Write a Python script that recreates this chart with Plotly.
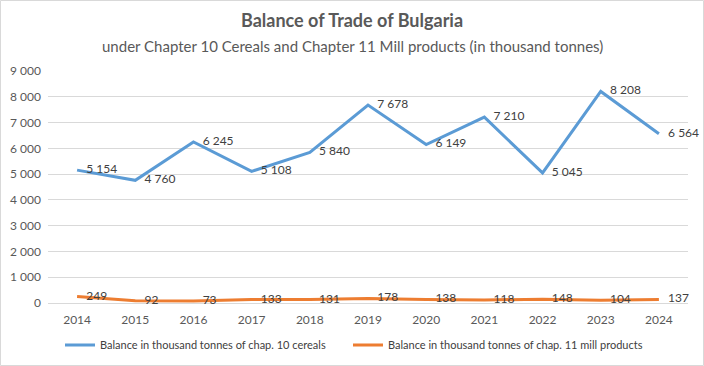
import plotly.graph_objects as go

years = ["2014", "2015", "2016", "2017", "2018", "2019", "2020", "2021", "2022", "2023", "2024"]
cereals = [5154, 4760, 6245, 5108, 5840, 7678, 6149, 7210, 5045, 8208, 6564]
mill = [249, 92, 73, 133, 131, 178, 138, 118, 148, 104, 137]
ytick_vals = [0, 1000, 2000, 3000, 4000, 5000, 6000, 7000, 8000, 9000]
ytick_text = ["0", "1 000", "2 000", "3 000", "4 000", "5 000", "6 000", "7 000", "8 000", "9 000"]

name_cereals = "Balance in thousand tonnes of chap. 10 cereals"
name_mill = "Balance in thousand tonnes of chap. 11 mill products"


def fmt(v):
    return "   " + f"{v:,}".replace(",", " ")


FONT = "Lato"
W, H = 704, 366
L, R, T, B = 48, 16, 71, 63
pw, ph = W - L - R, H - T - B

fig = go.Figure()
fig.add_trace(go.Scatter(
    x=years, y=cereals, mode="lines+text", name=name_cereals, legend="legend",
    line=dict(color="#5B9BD5", width=3),
    text=[fmt(v) for v in cereals], textposition="middle right", cliponaxis=False,
    textfont=dict(family=FONT, size=12, color="#404040"),
))
fig.add_trace(go.Scatter(
    x=years, y=mill, mode="lines+text", name=name_mill, legend="legend2",
    line=dict(color="#ED7D31", width=3),
    text=[fmt(v) for v in mill], textposition="middle right", cliponaxis=False,
    textfont=dict(family=FONT, size=12, color="#404040"),
))


def px_x(p):
    return (p - L) / pw


def px_y(p):
    return 1 - (p - T) / ph


leg_common = dict(orientation="h", xref="container", xanchor="left",
                  y=1 - 345 / H, yref="container", yanchor="middle",
                  font=dict(family=FONT, size=11, color="#404040"), itemwidth=30)

fig.update_layout(
    width=W, height=H,
    margin=dict(l=L, r=R, t=T, b=B, autoexpand=False),
    paper_bgcolor="white", plot_bgcolor="white",
    font=dict(family=FONT, size=12, color="#595959"),
    showlegend=True,
    legend=dict(x=60 / W, **leg_common),
    legend2=dict(x=348 / W, **leg_common),
    xaxis=dict(type="category", range=[-0.5, 10.5], showgrid=False, showline=False,
               ticks="", ticklabelstandoff=8,
               tickfont=dict(family=FONT, size=12, color="#595959"), fixedrange=True),
    yaxis=dict(range=[0, 9000], tickvals=ytick_vals, ticktext=ytick_text,
               showgrid=True, gridcolor="#D9D9D9", gridwidth=1, zeroline=True,
               zerolinecolor="#D9D9D9", zerolinewidth=1, showline=False, ticks="",
               ticklabelstandoff=6,
               tickfont=dict(family=FONT, size=12, color="#595959"), fixedrange=True),
    annotations=[
        dict(text="<b>Balance of Trade of Bulgaria</b>", xref="paper", yref="paper",
             x=px_x(352), y=px_y(20), xanchor="center", yanchor="middle", showarrow=False,
             font=dict(family=FONT, size=18, color="#595959")),
        dict(text="under Chapter 10 Cereals and Chapter 11 Mill products (in thousand tonnes)",
             xref="paper", yref="paper", x=px_x(352), y=px_y(46), xanchor="center",
             yanchor="middle", showarrow=False, font=dict(family=FONT, size=15, color="#595959")),
    ],
    shapes=[dict(type="rect", xref="paper", yref="paper", x0=px_x(0.5), x1=px_x(W - 0.5),
                 y0=px_y(0.5), y1=px_y(H - 0.5), line=dict(color="#D9D9D9", width=1),
                 layer="below")],
)

fig.write_html("out.html", config={"displayModeBar": False},
               post_script="document.body.style.margin='0';document.body.style.overflow='hidden';")
